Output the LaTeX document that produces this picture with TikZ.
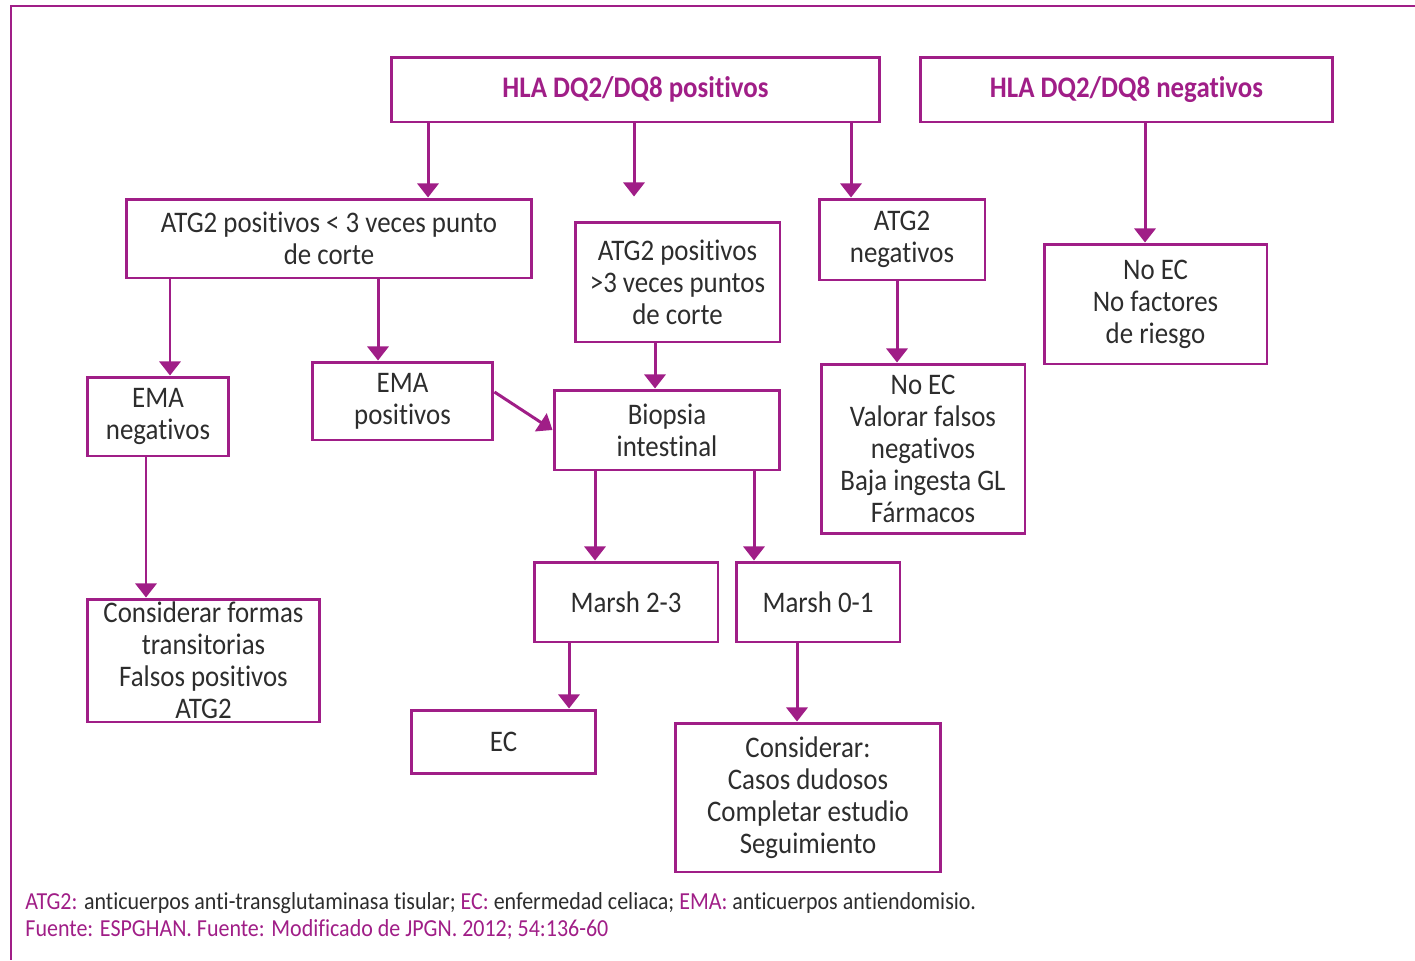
\documentclass[tikz,border=0pt]{standalone}
\usepackage{fontspec}
\setmainfont{Carlito}[FakeStretch=0.9, Ligatures=NoCommon]
\usetikzlibrary{arrows.meta}
\definecolor{morado}{RGB}{160,30,135}
\definecolor{texto}{RGB}{45,45,45}

\begin{document}
\begin{tikzpicture}[x=0.02cm, y=-0.02cm, line width=1.7pt]
	\useasboundingbox (0,0) rectangle (1415,960);
	\tikzstyle{flecha}=[draw=morado, -{Triangle[width=12pt,length=8pt]}]
	\tikzstyle{marco}=[draw=morado, line width=1.1pt]
	
	\draw[marco] (1415,6) -- (11,6) -- (11,960);
	
	\begin{scope}[every node/.style={draw=morado,rectangle,line width=1.7pt,inner sep=0pt,align=center,text=texto,font=\fontsize{17}{18.2}\selectfont}]
		\node[minimum width=9.78cm, minimum height=1.3cm, text=morado, font=\fontsize{17}{18.2}\selectfont\bfseries] (hlapos) at (635.5,89.5) {HLA DQ2/DQ8 positivos};
		\node[minimum width=8.26cm, minimum height=1.3cm, text=morado, font=\fontsize{17}{18.2}\selectfont\bfseries] (hlaneg) at (1126.5,89.5) {HLA DQ2/DQ8 negativos};
		
		\node[minimum width=8.12cm, minimum height=1.58cm] (atgmenor) at (329,238.5) {ATG2 positivos < 3 veces punto\\de corte};
		\node[minimum width=4.1cm, minimum height=2.4cm] (atgmayor) at (677.5,282) {ATG2 positivos\\>3 veces puntos\\de corte};
		\node[minimum width=3.32cm, minimum height=1.62cm] (atgneg) at (902,239.5) {ATG2\\negativos};
		\node[minimum width=4.46cm, minimum height=2.4cm] (noecneg) at (1155.5,304) {No EC\\No factores\\de riesgo};
		
		\node[minimum width=2.84cm, minimum height=1.58cm] (emaneg) at (158,416.5) {EMA\\negativos};
		\node[minimum width=3.62cm, minimum height=1.56cm] (emapos) at (402.5,401) {EMA\\positivos};
		\node[minimum width=4.52cm, minimum height=1.6cm] (biopsia) at (667,430) {Biopsia\\intestinal};
		\node[minimum width=4.08cm, minimum height=3.4cm] (noecval) at (923,449) {No EC\\Valorar falsos\\negativos\\Baja ingesta GL\\Fármacos};
		
		\node[minimum width=4.66cm, minimum height=2.46cm] (transit) at (203.5,660.5) {Considerar formas\\transitorias\\Falsos positivos\\ATG2};
		\node[minimum width=3.68cm, minimum height=1.6cm] (marsh23) at (626,602) {Marsh 2-3};
		\node[minimum width=3.28cm, minimum height=1.6cm] (marsh01) at (818,602) {Marsh 0-1};
		\node[minimum width=3.7cm, minimum height=1.26cm] (ec) at (503.5,741.5) {EC};
		\node[minimum width=5.32cm, minimum height=2.98cm] (considerar) at (808,797.5) {Considerar:\\Casos dudosos\\Completar estudio\\Seguimiento};
	\end{scope}
	
	\draw[flecha] (hlapos.south -| 428,0) -- (atgmenor.north -| 428,0);
	\draw[flecha, shorten >=0.48cm] (hlapos.south -| 634,0) -- (atgmayor.north -| 634,0);
	\draw[flecha] (hlapos.south -| 851,0) -- (atgneg.north -| 851,0);
	\draw[flecha] (hlaneg.south -| 1145,0) -- (noecneg.north -| 1145,0);
	\draw[flecha] (atgmenor.south -| 170,0) -- (emaneg.north -| 170,0);
	\draw[flecha] (atgmenor.south -| 378,0) -- (emapos.north -| 378,0);
	\draw[flecha] (atgmayor.south -| 655,0) -- (biopsia.north -| 655,0);
	\draw[flecha] (atgneg.south -| 897,0) -- (noecval.north -| 897,0);
	\draw[flecha] (emapos.east |- 0,392) -- (biopsia.west);
	\draw[flecha] (emaneg.south -| 146,0) -- (transit.north -| 146,0);
	\draw[flecha] (biopsia.south -| 595,0) -- (marsh23.north -| 595,0);
	\draw[flecha] (biopsia.south -| 754,0) -- (marsh01.north -| 754,0);
	\draw[flecha] (marsh23.south -| 569,0) -- (ec.north -| 569,0);
	\draw[flecha] (marsh01.south -| 797,0) -- (considerar.north -| 797,0);
	
	\node[anchor=base west, inner sep=0pt, text=texto, font=\fontsize{13.9}{15}\selectfont] (nota) at (24,909) {\textcolor{morado}{ATG2:} anticuerpos anti-transglutaminasa tisular; \textcolor{morado}{EC:} enfermedad celiaca; \textcolor{morado}{EMA:} anticuerpos antiendomisio.};
	\node[anchor=base west, inner sep=0pt, text=morado, font=\fontsize{13.9}{15}\selectfont] (fuente) at (24,936) {Fuente: ESPGHAN. Fuente: Modificado de JPGN. 2012; 54:136-60};
\end{tikzpicture}
\end{document}
